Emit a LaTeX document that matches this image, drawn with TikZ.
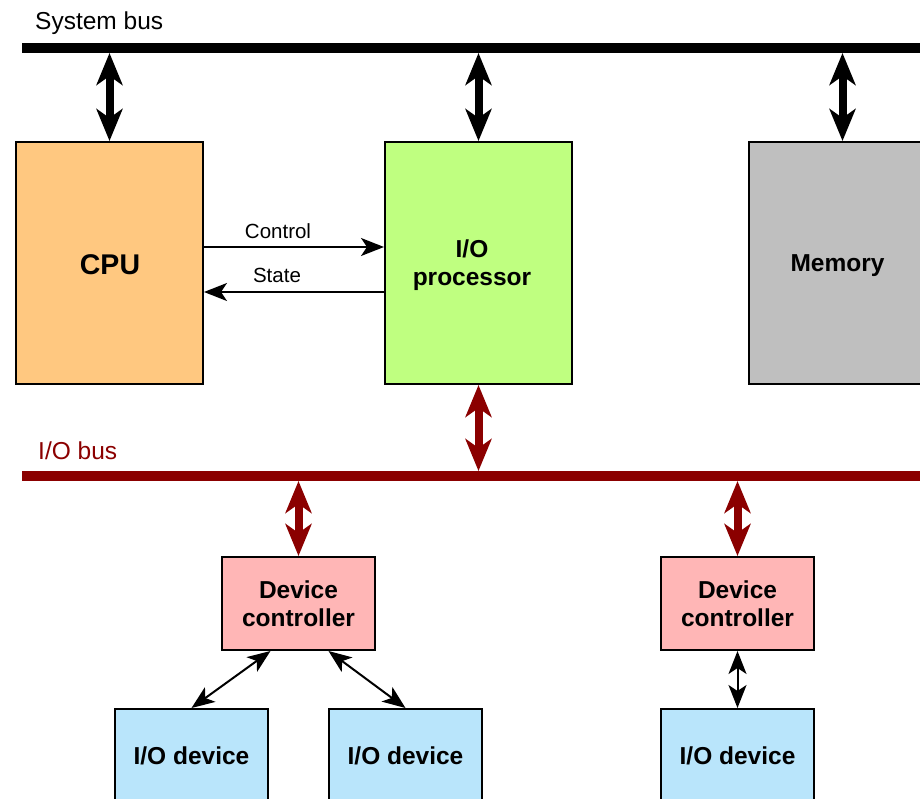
\documentclass[tikz,border=0pt]{standalone}
\usepackage{fontspec}
\setmainfont{Liberation Sans}
\usetikzlibrary{arrows.meta}

\definecolor{cpufill}{RGB}{255,200,128}
\definecolor{iopfill}{RGB}{191,255,128}
\definecolor{memfill}{RGB}{191,191,191}
\definecolor{ctlfill}{RGB}{255,182,182}
\definecolor{devfill}{RGB}{185,229,251}
\definecolor{busred}{RGB}{139,0,0}

\tikzset{
  unit/.style={draw=black, line width=2pt, inner sep=0pt, align=center,
    font=\fontsize{24.5}{28.5}\selectfont\bfseries},
  unitname/.style={inner sep=0pt, align=center,
    font=\fontsize{24.5}{28.5}\selectfont\bfseries},
  buslabel/.style={inner sep=0pt, anchor=base west, font=\fontsize{24.5}{28}\selectfont},
  siglabel/.style={inner sep=0pt, font=\fontsize{20.5}{24}\selectfont},
  busline/.style={line width=10pt},
  bigarrow/.style={line width=8pt,
    {Stealth[length=32pt,width=26pt,inset=9pt]}-{Stealth[length=32pt,width=26pt,inset=9pt]}},
  smallarrow/.style={line width=2pt,
    {Stealth[length=23pt,width=18pt,inset=6pt]}-{Stealth[length=23pt,width=18pt,inset=6pt]}},
  sigarrow/.style={line width=2pt, -{Stealth[length=23pt,width=18pt,inset=6pt]}},
}

\begin{document}
\begin{tikzpicture}[x=1pt,y=-1pt]
\useasboundingbox (0,0) rectangle (920,799);
\clip (0,0) rectangle (920,799);
\fill[white] (0,0) rectangle (920,799);

% buses
\coordinate (sysL) at (22,48);
\coordinate (sysR) at (930,48);
\coordinate (sysEdge) at (0,53);
\coordinate (ioL) at (22,476);
\coordinate (ioR) at (930,476);
\coordinate (ioTop) at (0,471);
\coordinate (ioBot) at (0,481);
\draw[busline] (sysL) -- (sysR);
\draw[busline, busred] (ioL) -- (ioR);
\node[buslabel] (sysname) at (35,30) {System bus};
\node[buslabel, text=busred] (ioname) at (38,459) {I/O bus};

% main units
\node[unit, fill=cpufill, minimum width=187pt, minimum height=242pt] (cpu) at (109.5,263) {};
\node[unitname, font=\fontsize{28.5}{32}\selectfont\bfseries] (cpuname) at (110,265) {CPU};
\node[unit, fill=iopfill, minimum width=187pt, minimum height=242pt] (iop) at (478.5,263) {};
\node[unitname] (iopname) at (472,265) {I/O\\processor};
\node[unit, fill=memfill, minimum width=187pt, minimum height=242pt] (mem) at (842.5,263) {};
\node[unitname] (memname) at (837.5,266) {Memory};

% controllers and devices
\node[unit, fill=ctlfill, minimum width=153pt, minimum height=93pt] (dc1) at (298.5,603.5) {Device\\controller};
\node[unit, fill=ctlfill, minimum width=153pt, minimum height=93pt] (dc2) at (737.5,603.5) {Device\\controller};
\node[unit, fill=devfill, minimum width=153pt, minimum height=93pt] (dev1) at (191.5,755.5) {I/O device};
\node[unit, fill=devfill, minimum width=153pt, minimum height=93pt] (dev2) at (405.5,755.5) {I/O device};
\node[unit, fill=devfill, minimum width=153pt, minimum height=93pt] (dev3) at (737.5,755.5) {I/O device};

% system bus links
\draw[bigarrow] (sysEdge -| cpu.north) -- (cpu.north);
\draw[bigarrow] (sysEdge -| iop.north) -- (iop.north);
\draw[bigarrow] (sysEdge -| mem.north) -- (mem.north);

% I/O bus links
\draw[bigarrow, busred] (iop.south) -- (ioTop -| iop.south);
\draw[bigarrow, busred] (ioBot -| dc1.north) -- (dc1.north);
\draw[bigarrow, busred] (ioBot -| dc2.north) -- (dc2.north);

% CPU <-> I/O processor signals
\draw[sigarrow] ([yshift=16pt]cpu.east) -- ([yshift=16pt]cpu.east -| iop.west);
\draw[sigarrow] ([yshift=-29pt]cpu.east -| iop.west) -- ([yshift=-29pt]cpu.east);
\node[siglabel] (ctlname) at (278,231) {Control};
\node[siglabel] (statename) at (277,275) {State};

% controller to device links
\draw[smallarrow] ([xshift=-28pt]dc1.south) -- (dev1.north);
\draw[smallarrow] ([xshift=30pt]dc1.south) -- (dev2.north);
\draw[smallarrow] (dc2.south) -- (dev3.north);
\end{tikzpicture}
\end{document}
